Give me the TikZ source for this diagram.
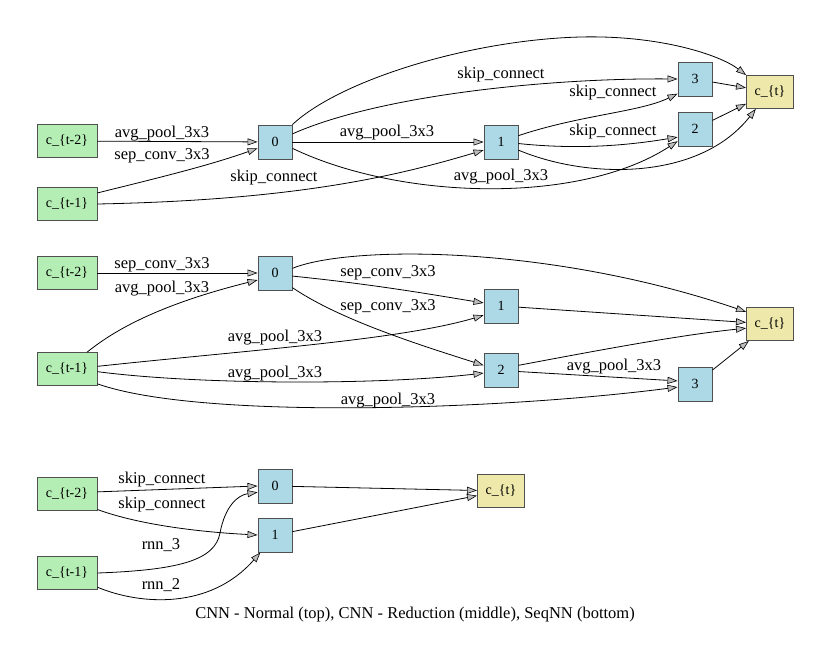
\documentclass[tikz,border=0pt]{standalone}
\usepackage{fontspec}
\setmainfont{Liberation Serif}
\usetikzlibrary{arrows.meta}
\definecolor{srcgreen}{HTML}{B4EEB4}
\definecolor{opblue}{HTML}{ADD8E6}
\definecolor{outyellow}{HTML}{EEE8AA}
\definecolor{bordergray}{HTML}{505050}
\definecolor{tipgray}{HTML}{BEBEBE}
\begin{document}
\begin{tikzpicture}[x=1pt,y=-1pt,
  box/.style={draw=bordergray,line width=0.9pt,inner sep=0pt,minimum height=33pt,font=\fontsize{14}{16}\selectfont},
  srcnode/.style={box,fill=srcgreen,minimum width=60pt},
  opnode/.style={box,fill=opblue,minimum width=34pt,minimum height=34pt},
  outnode/.style={box,fill=outyellow,minimum width=47pt},
  lbl/.style={inner sep=0pt,font=\fontsize{16.5}{19}\selectfont},
  conn/.style={draw=black,line width=0.8pt,-{Triangle[length=10pt,width=7pt,fill=tipgray,line width=0.6pt]}}
]
\useasboundingbox[fill=white] (0,0) rectangle (830,665);

% ---------------- top: CNN normal ----------------
\node[srcnode] (a2) at (67,141) {c\_\{t-2\}};
\node[srcnode] (a1) at (67,204) {c\_\{t-1\}};
\node[opnode] (a0n) at (275,142) {0};
\node[opnode] (a1n) at (501,142) {1};
\node[opnode] (a3n) at (695,79) {3};
\node[opnode] (a2n) at (695,129) {2};
\node[outnode] (at) at (770,92) {c\_\{t\}};
\coordinate (apeak) at (580,37);

\draw[conn] (a2) -- (a0n);
\draw[conn] (a1.20) .. controls (170,175) and (210,165) .. (a0n.200);
\draw[conn] (a1.east) .. controls (300,200) and (400,175) .. (a1n.205);
\draw[conn] (a0n) -- (a1n);
\draw[conn] (a0n.25) .. controls (380,95) and (550,78) .. (a3n.west);
\draw[conn] (a0n.45) .. controls (340,80) and (470,40) .. (apeak) .. controls (660,35) and (720,55) .. (at.north west);
\draw[conn] (a0n.-20) .. controls (400,200) and (580,205) .. (a2n.215);
\draw[conn] (a1n.20) .. controls (580,115) and (640,112) .. (a3n.220);
\draw[conn] (a1n.-5) .. controls (580,150) and (630,145) .. (a2n.205);
\draw[conn] (a1n.-25) .. controls (590,180) and (700,180) .. (at.-130);
\draw[conn] (a3n) -- (at);
\draw[conn] (a2n) -- (at);

\node[lbl] (la1) at (162,134) {avg\_pool\_3x3};
\node[lbl] (la2) at (162,156) {sep\_conv\_3x3};
\node[lbl] (la3) at (274,178) {skip\_connect};
\node[lbl] (la4) at (387,133) {avg\_pool\_3x3};
\node[lbl] (la5) at (501,75) {skip\_connect};
\node[lbl] (la6) at (501,177) {avg\_pool\_3x3};
\node[lbl] (la7) at (613,93) {skip\_connect};
\node[lbl] (la8) at (613,132) {skip\_connect};

% ---------------- middle: CNN reduction ----------------
\node[srcnode] (b2) at (67,273) {c\_\{t-2\}};
\node[srcnode] (b1) at (67,369) {c\_\{t-1\}};
\node[opnode] (b0n) at (275,273) {0};
\node[opnode] (b1n) at (501,306) {1};
\node[opnode] (b2n) at (501,370) {2};
\node[opnode] (b3n) at (695,384) {3};
\node[outnode] (bt) at (770,324) {c\_\{t\}};

\draw[conn] (b2) -- (b0n);
\draw[conn] (b1.40) .. controls (105,338) and (145,308) .. (b0n.202);
\draw[conn] (b1.5) .. controls (250,350) and (400,340) .. (b1n.208);
\draw[conn] (b1.-5) .. controls (200,385) and (380,385) .. (b2n.190);
\draw[conn] (b1.-26) .. controls (200,420) and (500,410) .. (b3n.190);
\draw[conn] (b0n.-10) .. controls (380,285) and (440,296) .. (b1n.170);
\draw[conn] (b0n.-40) .. controls (340,320) and (420,345) .. (b2n.165);
\draw[conn] (b0n.15) .. controls (350,245) and (550,245) .. (bt.153);
\draw[conn] (b1n) -- (bt);
\draw[conn] (b2n.15) .. controls (600,350) and (680,335) .. (bt.190);
\draw[conn] (b2n.-5) -- (b3n.170);
\draw[conn] (b3n) -- (bt);

\node[lbl] (lb1) at (162,265) {sep\_conv\_3x3};
\node[lbl] (lb2) at (162,289) {avg\_pool\_3x3};
\node[lbl] (lb3) at (388,273) {sep\_conv\_3x3};
\node[lbl] (lb4) at (388,307) {sep\_conv\_3x3};
\node[lbl] (lb5) at (275,338) {avg\_pool\_3x3};
\node[lbl] (lb6) at (275,374) {avg\_pool\_3x3};
\node[lbl] (lb7) at (388,401) {avg\_pool\_3x3};
\node[lbl] (lb8) at (614,367) {avg\_pool\_3x3};

% ---------------- bottom: SeqNN ----------------
\node[srcnode] (c2) at (67,494) {c\_\{t-2\}};
\node[srcnode] (c1) at (67,573) {c\_\{t-1\}};
\node[opnode] (c0n) at (275,486) {0};
\node[opnode] (c1n) at (275,535) {1};
\node[outnode] (ct) at (501,491) {c\_\{t\}};
\coordinate (cbend) at (220,533);

\draw[conn] (c2.4) -- (c0n.west);
\draw[conn] (c2.-27) .. controls (140,525) and (200,532) .. (c1n.west);
\draw[conn] (c1.east) .. controls (180,570) and (215,560) .. (cbend) .. controls (225,506) and (238,495) .. (c0n.200);
\draw[conn] (c1.-25) .. controls (140,605) and (210,610) .. (c1n.230);
\draw[conn] (c0n) -- (ct);
\draw[conn] (c1n) -- (ct);

\node[lbl] (lc1) at (162,480) {skip\_connect};
\node[lbl] (lc2) at (162,505) {skip\_connect};
\node[lbl] (lc3) at (161,545) {rnn\_3};
\node[lbl] (lc4) at (161,585) {rnn\_2};

\node[lbl] (cap) at (415,615) {CNN - Normal (top), CNN - Reduction (middle), SeqNN (bottom)};
\end{tikzpicture}
\end{document}
